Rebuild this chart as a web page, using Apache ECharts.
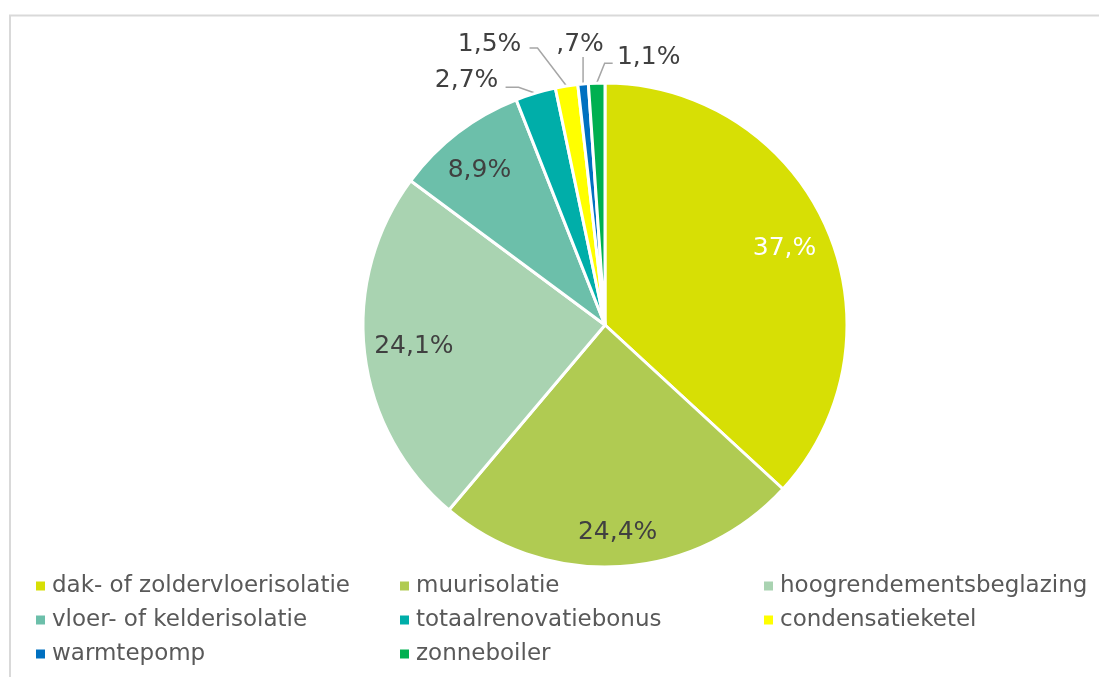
<!DOCTYPE html>
<html>
<head>
<meta charset="utf-8">
<script src="https://cdn.jsdelivr.net/npm/echarts@6/dist/echarts.min.js"></script>
<style>
html,body{margin:0;padding:0;background:#fff;}
#chart{width:1099px;height:677px;}
</style>
</head>
<body>
<div id="chart"></div>
<script>
const categories = ['dak- of zoldervloerisolatie','muurisolatie','hoogrendementsbeglazing','vloer- of kelderisolatie','totaalrenovatiebonus','condensatieketel','warmtepomp','zonneboiler'];
const values = [37.0, 24.4, 24.1, 8.9, 2.7, 1.5, 0.7, 1.1];
const labelTexts = ['37,%', '24,4%', '24,1%', '8,9%', '2,7%', '1,5%', ',7%', '1,1%'];
const insideLabel = [true, true, true, true, false, false, false, false];
const colors = ['#d7df05', '#b0cb52', '#a9d3b1', '#6cbfaa', '#00aea9', '#ffff00', '#0070c0', '#00b050'];
const legendCols = [
  ['dak- of zoldervloerisolatie','vloer- of kelderisolatie','warmtepomp'],
  ['muurisolatie','totaalrenovatiebonus','zonneboiler'],
  ['hoogrendementsbeglazing','condensatieketel']
];

// fine placement of labels (style only)
const insideLabelShift = {0: [-5, 4], 1: [0, 6], 2: [9, -2], 3: [-3, 5]};
const outsideLabelOffset = {4: [-69, -14], 5: [-77, -43], 6: [-3, -40], 7: [52, -27]};
const outsideLinePath = {
  4: [[0, 0], [-17, -6], [-30, -6]],
  5: [[0, 0], [-29, -38], [-37, -38]],
  6: [[0, 0], [0, -13], [0, -27]],
  7: [[0, 0], [8, -20], [16, -20]]
};

const FONT = 'DejaVu Sans';
const chart = echarts.init(document.getElementById('chart'));
const R = 242;
const center = [605, 325];

const mainData = categories.map((n, i) => ({
  name: n, value: values[i],
  itemStyle: {color: colors[i]},
  label: {show: !insideLabel[i]},
  labelLine: {show: !insideLabel[i]}
}));
const labelData = categories.map((n, i) => ({
  name: n, value: values[i],
  label: {show: insideLabel[i], color: i === 0 ? '#ffffff' : '#404040',
    offset: insideLabelShift[i] || [0, 0]}
}));

const legendBase = {
  orient: 'vertical', icon: 'rect', itemWidth: 11, itemHeight: 11,
  itemGap: 8, top: 568,
  textStyle: {fontFamily: FONT, fontSize: 23, color: '#595959', lineHeight: 26, padding: [0, 0, 0, 1]},
  selectedMode: false
};
const lefts = [29, 393, 757];

chart.setOption({
  backgroundColor: '#ffffff',
  animation: false,
  color: colors,
  graphic: [{
    type: 'rect', shape: {x: 10, y: 15.5, width: 1200, height: 800},
    style: {fill: 'none', stroke: '#d9d9d9', lineWidth: 2}, silent: true, z: -10
  }],
  legend: legendCols.map((col, k) => Object.assign({}, legendBase, {left: lefts[k], data: col})),
  series: [{
    type: 'pie', center: center, radius: [0, R], startAngle: 90, clockwise: true,
    data: mainData,
    itemStyle: {borderColor: '#ffffff', borderWidth: 3},
    label: {position: 'outside', fontFamily: FONT, fontSize: 25, color: '#404040',
      formatter: p => labelTexts[p.dataIndex]},
    labelLine: {length: 12, length2: 12, lineStyle: {color: '#a6a6a6', width: 1.5}},
    labelLayout: function (p) {
      const off = outsideLabelOffset[p.dataIndex];
      if (!off || !p.labelLinePoints) return {};
      const a = p.labelLinePoints[0];
      return {
        x: a[0] + off[0], y: a[1] + off[1] + 1,
        align: 'center', verticalAlign: 'middle',
        labelLinePoints: outsideLinePath[p.dataIndex].map(q => [a[0] + q[0], a[1] + q[1]])
      };
    },
    emphasis: {disabled: true}
  }, {
    type: 'pie', center: center, radius: [R * 0.64, R], startAngle: 90, clockwise: true,
    data: labelData, silent: true,
    itemStyle: {color: 'rgba(0,0,0,0)', borderWidth: 0},
    label: {position: 'inside', fontFamily: FONT, fontSize: 25,
      formatter: p => labelTexts[p.dataIndex]},
    labelLine: {show: false},
    emphasis: {disabled: true}
  }]
});
</script>
</body>
</html>
